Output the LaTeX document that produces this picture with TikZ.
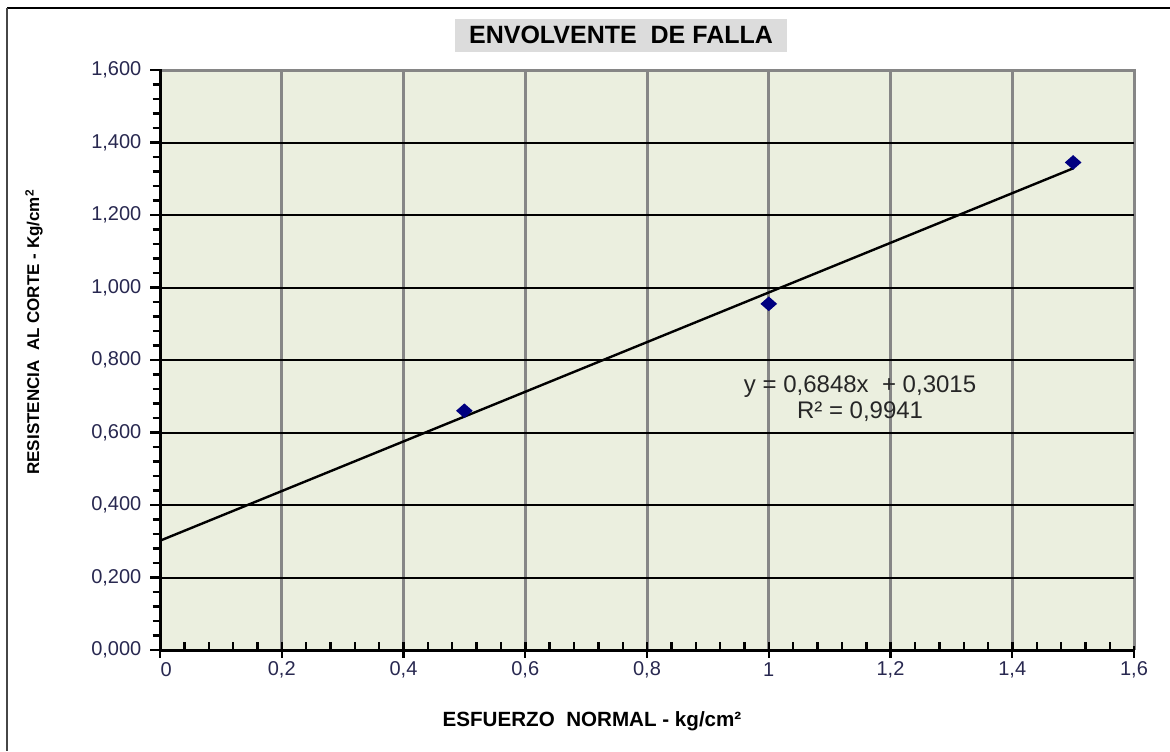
\documentclass[tikz,border=0pt]{standalone}
\usepackage{fontspec}
\setmainfont{Liberation Sans}
\usetikzlibrary{shapes.geometric}
\definecolor{plotbg}{RGB}{235,239,223}
\definecolor{gridgray}{RGB}{134,134,134}
\definecolor{titlebg}{RGB}{220,220,220}
\definecolor{ticktext}{RGB}{40,40,80}
\definecolor{navy}{RGB}{0,0,128}
\definecolor{frameline}{RGB}{70,70,70}
\tikzset{
  vgrid/.style={draw=gridgray, line width=1.5pt},
  hgrid/.style={draw=black, line width=1pt},
  axisline/.style={draw=black, line width=1.5pt},
  ticklab/.style={font=\fontsize{10}{12}\selectfont, text=ticktext, inner sep=0pt},
  marker/.style={diamond, fill=navy, draw=none, minimum width=8.5pt, minimum height=7.5pt, inner sep=0pt},
  eqtext/.style={font=\fontsize{12}{14}\selectfont, text=black!85, inner sep=0pt},
  axlabel/.style={font=\bfseries\fontsize{10.3}{12}\selectfont, inner sep=0pt},
}
\begin{document}
\begin{tikzpicture}[x=0.5pt,y=-0.5pt]
\useasboundingbox (0,0) rectangle (1170,751);
\fill[white] (0,0) rectangle (1170,751);
% outer frame
\draw[black, line width=1.2pt] (7,8) -- (1170,8);
\draw[frameline, line width=1pt] (7,8) -- (7,751);
% title
\node[fill=titlebg, minimum width=166pt, minimum height=16.5pt, inner sep=0pt,
      font=\bfseries\fontsize{12.5}{14}\selectfont] (title) at (621,35) {ENVOLVENTE\ \ DE FALLA};
% plot area
\fill[plotbg] (160,70) rectangle (1134,650);
\begin{scope}[shift={(160,650)}, x=304.375pt, y=181.25pt]
  \foreach \i in {0.2,0.4,...,1.4} \draw[vgrid] (\i,0) -- (\i,1.6);
  \draw[vgrid] (1.6,0) -- (1.6,1.6) -- (0,1.6);
  \foreach \j in {0.2,0.4,...,1.4} \draw[hgrid] (0,\j) -- (1.6,\j);
  \draw[hgrid, line width=1.3pt] (0,0.4) -- (1.6,0.4);
  % axes
  \draw[axisline] (0,0) -- (1.6,0);
  \draw[axisline] (0,0) -- (0,1.6);
  % y ticks
  \foreach \j in {0,0.04,...,1.6} \draw[black, line width=1.2pt] (-0.012,\j) -- (0,\j);
  \foreach \j in {0,0.2,...,1.61} \draw[black, line width=1.2pt] (-0.016,\j) -- (0.004,\j);
  % x ticks
  \foreach \i in {0.04,0.08,...,1.6} \draw[black, line width=1.2pt] (\i,0) -- (\i,0.022);
  \foreach \i in {0,0.2,...,1.61} \draw[black, line width=1.2pt] (\i,-0.022) -- (\i,0.01);
  % y labels
  \node[ticklab, anchor=east] (y0) at (-0.03,0) {0,000};
  \node[ticklab, anchor=east] (y1) at (-0.03,0.2) {0,200};
  \node[ticklab, anchor=east] (y2) at (-0.03,0.4) {0,400};
  \node[ticklab, anchor=east] (y3) at (-0.03,0.6) {0,600};
  \node[ticklab, anchor=east] (y4) at (-0.03,0.8) {0,800};
  \node[ticklab, anchor=east] (y5) at (-0.03,1.0) {1,000};
  \node[ticklab, anchor=east] (y6) at (-0.03,1.2) {1,200};
  \node[ticklab, anchor=east] (y7) at (-0.03,1.4) {1,400};
  \node[ticklab, anchor=east] (y8) at (-0.03,1.6) {1,600};
  % x labels
  \node[ticklab] (x0) at (0.01,-0.055) {0};
  \node[ticklab] (x1) at (0.2,-0.055) {0,2};
  \node[ticklab] (x2) at (0.4,-0.055) {0,4};
  \node[ticklab] (x3) at (0.6,-0.055) {0,6};
  \node[ticklab] (x4) at (0.8,-0.055) {0,8};
  \node[ticklab] (x5) at (1.0,-0.055) {1};
  \node[ticklab] (x6) at (1.2,-0.055) {1,2};
  \node[ticklab] (x7) at (1.4,-0.055) {1,4};
  \node[ticklab] (x8) at (1.6,-0.055) {1,6};
  % trend line
  \coordinate (l0) at (0,0.3015);
  \coordinate (l1) at (1.5,1.3287);
  \draw[black, line width=1.2pt] (l0) -- (l1);
  % data points
  \node[marker] (p1) at (0.5,0.66) {};
  \node[marker] (p2) at (1.0,0.955) {};
  \node[marker] (p3) at (1.5,1.345) {};
  % equation
  \node[eqtext] (eq1) at (1.150,0.728) {y = 0,6848x\ \ + 0,3015};
  \node[eqtext] (eq2) at (1.150,0.658) {R² = 0,9941};
\end{scope}
% axis titles
\node[axlabel] (xlab) at (592,721) {ESFUERZO\ \ NORMAL - kg/cm²};
\node[axlabel, font=\bfseries\fontsize{8.5}{10}\selectfont, rotate=90] (ylab) at (34,332) {RESISTENCIA\ \ AL CORTE - Kg/cm\textsuperscript{2}};
\end{tikzpicture}
\end{document}
